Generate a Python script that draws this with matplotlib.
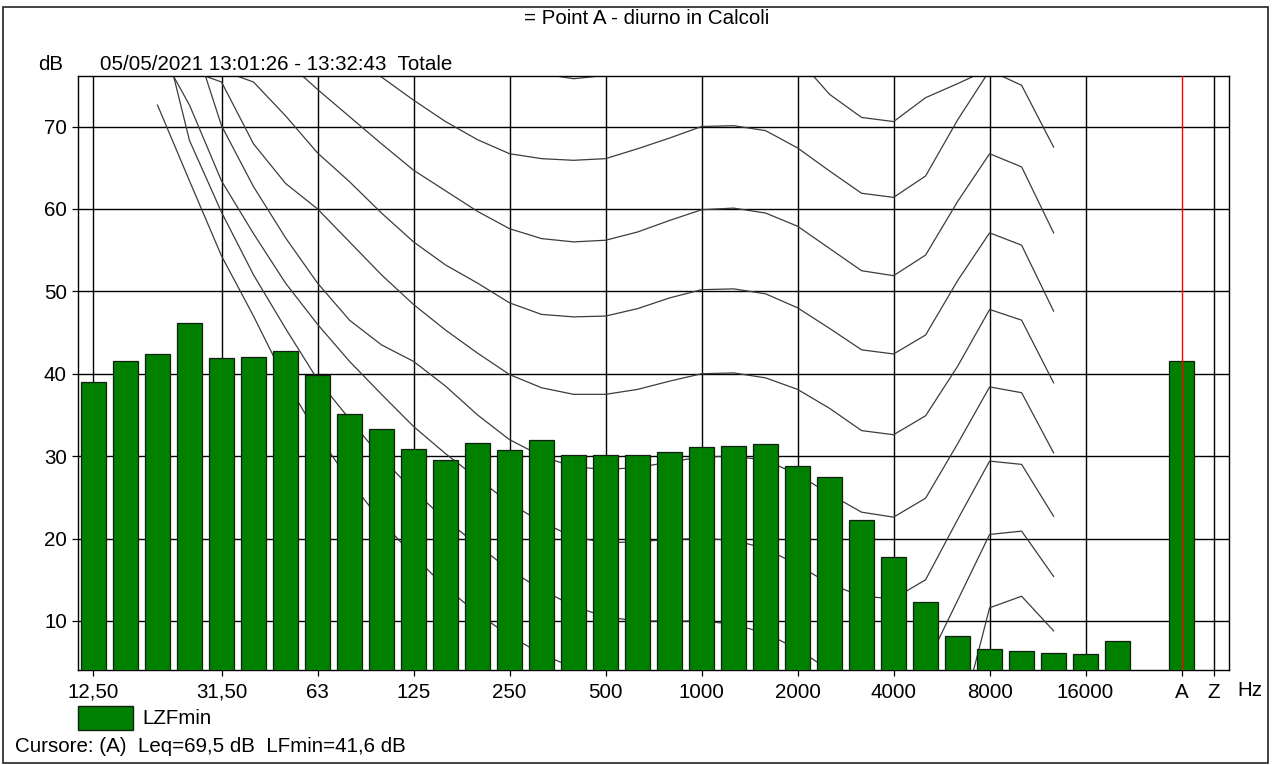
import matplotlib.pyplot as plt
from matplotlib.patches import Rectangle
import numpy as np

plt.rcParams['font.family'] = ['Liberation Sans', 'DejaVu Sans']

# ── data ─────────────────────────────────────────────────────────────────────
bands = ['12,50', '16', '20', '25', '31,50', '40', '50', '63', '80', '100',
         '125', '160', '200', '250', '315', '400', '500', '630', '800', '1000',
         '1250', '1600', '2000', '2500', '3150', '4000', '5000', '6300', '8000',
         '10000', '12500', '16000', '20000']
lzfmin = [39.0, 41.5, 42.4, 46.1, 41.9, 42.0, 42.8, 39.8, 35.1, 33.3,
          30.9, 29.5, 31.6, 30.7, 31.9, 30.1, 30.1, 30.1, 30.5, 31.1,
          31.2, 31.5, 28.8, 27.5, 22.2, 17.8, 12.3, 8.2, 6.6, 6.3,
          6.1, 6.0, 7.6]
lzfmin_a = 41.6

# loudness contours, 20 Hz ... 12500 Hz
contour_bands = bands[2:31]
curve_0 = [72.6, 63.4, 54.3, 47.0, 39.2, 32.6, 27.0, 22.1, 17.9, 14.1,
           10.9, 8.2, 6.0, 4.3, 3.5, 3.0, 2.5, 2.2, 1.7, 0.8,
           -0.8, -2.5, -4.3, -4.8, -4.0, -3.5, 11.6, 13.0, 8.8]
curve_10 = [84.0, 68.3, 59.6, 52.0, 45.5, 39.3, 34.5, 29.8, 25.8, 22.3,
            19.2, 16.2, 13.8, 11.8, 10.5, 10.0, 10.0, 10.0, 9.6, 8.5,
            6.6, 4.0, 2.0, 1.5, 4.5, 12.5, 20.5, 20.9, 15.4]
curve_20 = [79.6, 72.6, 63.4, 57.0, 51.0, 46.0, 41.5, 37.5, 33.6, 30.3,
            27.3, 24.3, 22.0, 20.2, 19.5, 19.6, 19.9, 20.0, 19.8, 18.8,
            16.8, 14.5, 13.0, 12.7, 15.0, 22.3, 29.4, 29.0, 22.7]
curve_30 = [95.0, 82.1, 70.1, 62.7, 56.5, 51.0, 46.5, 43.5, 41.5, 38.5,
            35.0, 32.0, 30.0, 28.7, 28.4, 28.6, 29.3, 29.9, 30.0, 29.5,
            27.8, 25.4, 23.2, 22.6, 24.9, 31.5, 38.4, 37.7, 30.4]
curve_40 = [90.0, 76.8, 75.4, 67.9, 63.1, 60.0, 56.0, 52.0, 48.4, 45.3,
            42.5, 39.9, 38.3, 37.5, 37.5, 38.1, 39.1, 40.0, 40.1, 39.5,
            38.1, 35.8, 33.1, 32.6, 34.9, 40.9, 47.8, 46.5, 38.9]
curve_50 = [92.0, 85.0, 76.8, 75.4, 71.3, 66.8, 63.3, 59.5, 56.0, 53.2,
            51.0, 48.6, 47.2, 46.9, 47.0, 47.9, 49.2, 50.2, 50.3, 49.7,
            48.0, 45.5, 42.9, 42.4, 44.7, 51.3, 57.1, 55.6, 47.6]
curve_60 = [90.0, 87.0, 84.0, 81.0, 78.0, 74.5, 71.2, 67.9, 64.7, 62.2,
            59.7, 57.6, 56.4, 56.0, 56.2, 57.2, 58.6, 59.9, 60.1, 59.5,
            57.9, 55.2, 52.5, 51.9, 54.4, 60.9, 66.7, 65.1, 57.1]
curve_70 = [95.0, 92.0, 89.0, 86.0, 84.0, 82.0, 79.5, 76.0, 73.2, 70.6,
            68.4, 66.7, 66.1, 65.9, 66.1, 67.3, 68.6, 70.0, 70.1, 69.5,
            67.4, 64.6, 61.9, 61.4, 64.0, 70.8, 76.8, 75.0, 67.5]
curve_80 = [100.0, 98.0, 96.0, 94.0, 92.0, 90.0, 88.0, 86.0, 83.0, 81.0,
            79.0, 77.4, 76.4, 75.8, 76.2, 77.4, 78.5, 80.0, 80.1, 79.4,
            78.3, 73.9, 71.1, 70.6, 73.5, 75.2, 77.0, 85.0, 78.0]
contours = [curve_0, curve_10, curve_20, curve_30, curve_40,
            curve_50, curve_60, curve_70, curve_80]

tick_labels = ['12,50', '31,50', '63', '125', '250', '500', '1000', '2000',
               '4000', '8000', '16000']
y_ticks = [10, 20, 30, 40, 50, 60, 70]

# ── figure ───────────────────────────────────────────────────────────────────
W, H = 1272, 765
FS = 14.8
fig = plt.figure(figsize=(W / 100, H / 100), dpi=100)
fig.patch.set_facecolor('white')

def fx(px):
    return px / W

def fy(py):
    return 1 - py / H

ax = fig.add_axes([fx(78), fy(670), (1229 - 78) / W, (670 - 76) / H])
ax.set_xlim(-0.484, 35.48)
ax.set_ylim(4.05, 76.13)

x = np.arange(len(bands))
band_pos = {b: i for i, b in enumerate(bands)}
tick_pos = [band_pos[t] for t in tick_labels]
a_pos = len(bands) + 1
z_pos = len(bands) + 2

# grid
for v in y_ticks:
    ax.axhline(v, color='black', lw=1.0, zorder=1)
for t in tick_pos + [z_pos]:
    ax.axvline(t, color='black', lw=1.0, zorder=1)

# contours
cx = [band_pos[b] for b in contour_bands]
for c in contours:
    ax.plot(cx, c, color='#3c3c3c', lw=0.9, zorder=2)

# bars
ax.bar(x, lzfmin, width=0.8, color='#008000', edgecolor='#102010',
       linewidth=0.9, zorder=3)
ax.bar([a_pos], [lzfmin_a], width=0.8, color='#008000', edgecolor='#102010',
       linewidth=0.9, zorder=3)
ax.axvline(a_pos, color='red', lw=1.0, zorder=4)

# axes / ticks
ax.set_xticks(tick_pos + [a_pos, z_pos])
ax.set_xticklabels(tick_labels + ['A', 'Z'])
ax.set_yticks(y_ticks)
ax.set_yticklabels([str(v) for v in y_ticks])
ax.tick_params(axis='both', length=4, width=0.9, color='black',
               labelsize=FS, colors='black')
ax.tick_params(axis='x', pad=5)
ax.tick_params(axis='y', pad=4)
for s in ax.spines.values():
    s.set_color('black')
    s.set_linewidth(1.0)

# texts
fig.text(fx(1250), fy(690), 'Hz', fontsize=FS, ha='center', va='center',
         color='black')
fig.text(fx(647), fy(18), '= Point A - diurno in Calcoli', fontsize=FS,
         ha='center', va='center', color='black')
fig.text(fx(51), fy(65), 'dB', fontsize=FS, ha='center', va='center',
         color='black')
fig.text(fx(100), fy(65), '05/05/2021 13:01:26 - 13:32:43  Totale',
         fontsize=FS, ha='left', va='center', color='black')

# legend
fig.patches.append(Rectangle((fx(78), fy(730)), (133 - 78) / W, 24 / H,
                             transform=fig.transFigure, facecolor='#008000',
                             edgecolor='#102010', linewidth=1.0))
fig.text(fx(142), fy(718), 'LZFmin', fontsize=FS, ha='left', va='center',
         color='black')
fig.text(fx(15), fy(747), 'Cursore: (A)  Leq=69,5 dB  LFmin=41,6 dB',
         fontsize=FS, ha='left', va='center', color='black')

# outer frame
fig.patches.append(Rectangle((fx(3), fy(763)), (1268 - 3) / W, (763 - 7) / H,
                             transform=fig.transFigure, facecolor='none',
                             edgecolor='#222222', linewidth=1.2))

fig.savefig('out.png', dpi=100, facecolor='white')
